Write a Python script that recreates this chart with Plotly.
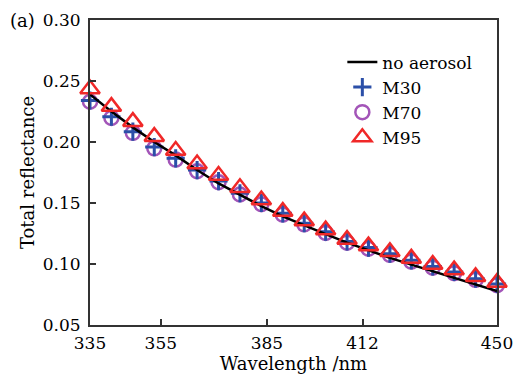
import numpy as np
import plotly.graph_objects as go

wavelength = [335.0, 341.05, 347.11, 353.16, 359.21, 365.26, 371.32, 377.37, 383.42, 389.47,
              395.53, 401.58, 407.63, 413.68, 419.74, 425.79, 431.84, 437.89, 443.95, 450.0]
no_aerosol = [0.239, 0.225, 0.212, 0.200, 0.189, 0.177, 0.166, 0.1565, 0.1475, 0.139,
              0.1315, 0.1245, 0.1175, 0.111, 0.105, 0.0995, 0.094, 0.0885, 0.0832, 0.0778]
m30 = [0.234, 0.2207, 0.2085, 0.1958, 0.1866, 0.177, 0.168, 0.158, 0.150, 0.1415,
       0.1335, 0.1265, 0.1185, 0.1135, 0.1085, 0.103, 0.098, 0.0935, 0.088, 0.0836]
m70 = [0.233, 0.2197, 0.2075, 0.1948, 0.1856, 0.176, 0.167, 0.157, 0.149, 0.1405,
       0.1325, 0.1255, 0.1175, 0.1125, 0.1075, 0.102, 0.097, 0.0925, 0.087, 0.0826]
m95 = [0.2434, 0.229, 0.2167, 0.2044, 0.193, 0.182, 0.1725, 0.1625, 0.1525, 0.143,
       0.1352, 0.1278, 0.120, 0.1148, 0.110, 0.1046, 0.0995, 0.095, 0.0896, 0.0848]
x_ticks = [335, 355, 385, 412, 450]
y_ticks = [0.05, 0.10, 0.15, 0.20, 0.25, 0.30]

FONT = "DejaVu Serif"
fig = go.Figure()
fig.add_trace(go.Scatter(x=wavelength, y=m70, mode="markers", name="M70", legendrank=3,
                         cliponaxis=False,
                         marker=dict(symbol="circle-open", size=14, color="#a355b8",
                                     line=dict(width=2.5, color="#a355b8"))))
fig.add_trace(go.Scatter(x=wavelength, y=m30, mode="markers", name="M30", legendrank=2,
                         cliponaxis=False,
                         marker=dict(symbol="cross-thin-open", size=13, color="#2b4fa8",
                                     line=dict(width=3, color="#2b4fa8"))))
fig.add_trace(go.Scatter(x=wavelength, y=no_aerosol, mode="lines", name="no aerosol", legendrank=1,
                         line=dict(color="black", width=2.5)))
fig.add_trace(go.Scatter(x=wavelength, y=m95, mode="markers", name="M95", legendrank=4,
                         cliponaxis=False,
                         marker=dict(symbol="triangle-up-open", size=17, color="#f02828",
                                     line=dict(width=2.5, color="#f02828"))))

fig.update_layout(
    width=518, height=374,
    margin=dict(l=90, r=21, t=20, b=49),
    paper_bgcolor="white", plot_bgcolor="white",
    font=dict(family=FONT, size=17, color="black"),
    showlegend=True,
    legend=dict(x=0.62, y=0.92, xanchor="left", yanchor="top",
                bgcolor="rgba(0,0,0,0)", font=dict(size=17, family=FONT),
                tracegroupgap=0, itemsizing="trace"),
    xaxis=dict(range=[335, 450], tickvals=x_ticks, ticktext=[str(v) for v in x_ticks],
               ticks="inside", ticklen=6, tickwidth=2, tickcolor="#333",
               showline=True, linecolor="#333", linewidth=2, mirror=True,
               showgrid=False, zeroline=False, ticklabelstandoff=2, automargin=False,
               title=dict(text="Wavelength /nm", font=dict(size=18, family=FONT), standoff=2)),
    yaxis=dict(range=[0.05, 0.30], tickvals=y_ticks, tickformat=".2f",
               ticks="inside", ticklen=6, tickwidth=2, tickcolor="#333",
               showline=True, linecolor="#333", linewidth=2, mirror=True,
               showgrid=False, zeroline=False, ticklabelstandoff=4, automargin=False,
               title=dict(text="Total reflectance", font=dict(size=18, family=FONT), standoff=3)),
)
fig.add_annotation(text="(a)", xref="paper", yref="paper", x=-0.2015, y=0.997,
                   xanchor="left", yanchor="middle", showarrow=False,
                   font=dict(size=18, family=FONT))
fig.write_html("out.html")
